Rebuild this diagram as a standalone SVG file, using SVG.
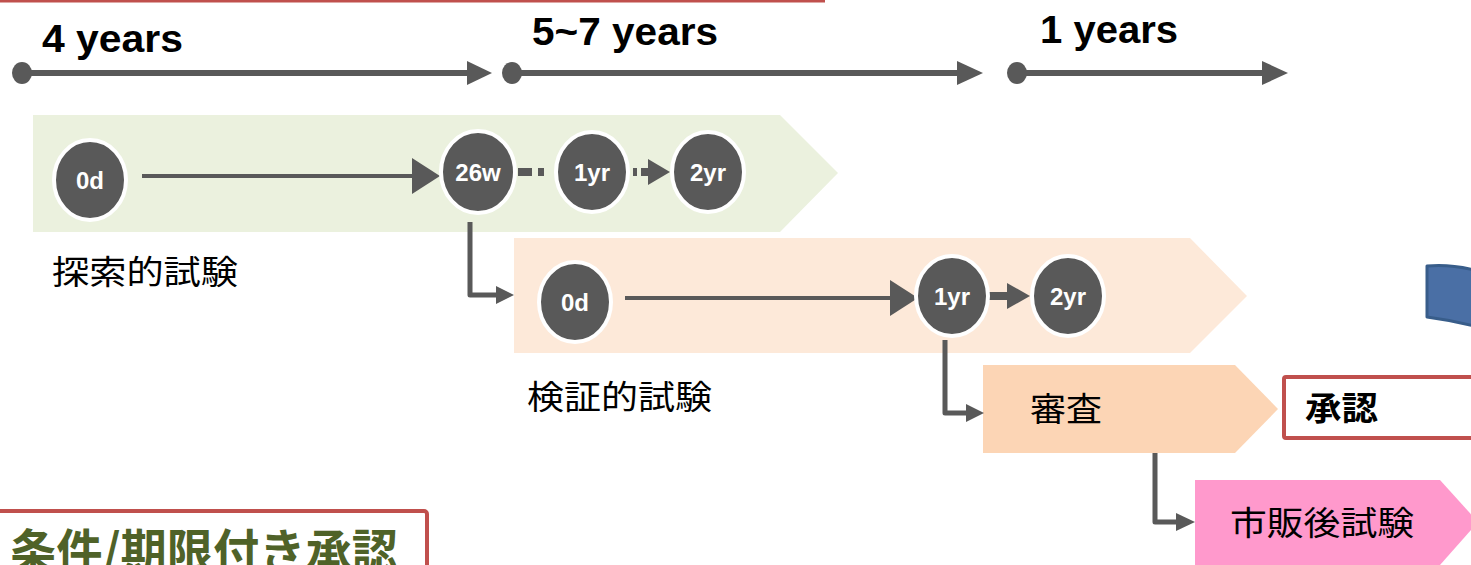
<svg xmlns="http://www.w3.org/2000/svg" width="1471" height="565" viewBox="0 0 1471 565">
<style>
.yr{font-family:"Liberation Sans",Arial,sans-serif;font-weight:bold;font-size:38px;fill:#000}
.nd ellipse{fill:#595959;stroke:#fff;stroke-width:4}
.nd text{font-family:"Liberation Sans",Arial,sans-serif;font-weight:bold;font-size:24px;fill:#fff;text-anchor:middle}
.jp{font-family:"Noto Sans CJK JP","Noto Sans",sans-serif;font-size:33px;fill:#000}
.ln{stroke:#595959;fill:none}
.ah{fill:#595959}
</style>
<rect x="0" y="0" width="1471" height="565" fill="#fff"/>
<line x1="0" y1="1" x2="825" y2="1" stroke="#C0504D" stroke-width="3"/>

<g id="band1"><polygon points="33,115 780,115 838,173 780,232 33,232" fill="#EBF1DE"/></g>
<g id="band2"><polygon points="514,238 1190,238 1247,296 1190,353 514,353" fill="#FDE9D9"/></g>
<g id="review"><polygon points="983,365 1235,365 1278,409 1235,453 983,453" fill="#FCD5B5"/><text class="jp" x="1030" y="421" font-size="35" textLength="72" lengthAdjust="spacingAndGlyphs">審査</text></g>
<g id="approval"><rect x="1284" y="377" width="200" height="61" rx="2" fill="#fff" stroke="#C0504D" stroke-width="4"/><text class="jp" x="1305" y="420" font-size="35" font-weight="bold" textLength="73" lengthAdjust="spacingAndGlyphs">承認</text></g>
<g id="postmarket"><polygon points="1195,480 1440,480 1478,522 1440,565 1195,565" fill="#FF99CC"/><text class="jp" x="1230" y="535" font-size="35" textLength="184" lengthAdjust="spacingAndGlyphs">市販後試験</text></g>
<g id="blueshape"><path d="M1427,266 Q1450,264 1474,270 L1474,326 Q1450,320 1427,317 Z" fill="#4A6FA5" stroke="#385D8A" stroke-width="3" stroke-linejoin="round"/></g>
<g id="conditional"><rect x="-6" y="511" width="433" height="70" rx="3" fill="#fff" stroke="#C0504D" stroke-width="4"/><text x="10" y="569" font-family="Noto Sans CJK JP,sans-serif" font-weight="bold" font-size="48" fill="#4F6228" textLength="388" lengthAdjust="spacingAndGlyphs">条件/期限付き承認</text></g>

<g id="labels">
<text class="yr" x="42" y="52" textLength="141" lengthAdjust="spacingAndGlyphs">4 years</text>
<text class="yr" x="532" y="45" textLength="186" lengthAdjust="spacingAndGlyphs">5~7 years</text>
<text class="yr" x="1040" y="43" textLength="138" lengthAdjust="spacingAndGlyphs">1 years</text>
<text class="jp" x="52" y="284" textLength="186" lengthAdjust="spacingAndGlyphs">探索的試験</text>
<text class="jp" x="527" y="409" textLength="185" lengthAdjust="spacingAndGlyphs">検証的試験</text>
</g>

<g id="connectors">
<ellipse cx="22" cy="73" rx="10" ry="11" class="ah"/>
<line x1="22" y1="73" x2="470" y2="73" class="ln" stroke-width="6"/>
<polygon points="467,61 492,73 467,85" class="ah"/>
<ellipse cx="512" cy="73" rx="10" ry="11" class="ah"/>
<line x1="512" y1="73" x2="960" y2="73" class="ln" stroke-width="6"/>
<polygon points="957,61 983,73 957,85" class="ah"/>
<ellipse cx="1017" cy="73" rx="10" ry="11" class="ah"/>
<line x1="1017" y1="73" x2="1265" y2="73" class="ln" stroke-width="6"/>
<polygon points="1262,61 1288,73 1262,85" class="ah"/>
<line x1="142" y1="176" x2="415" y2="176" class="ln" stroke-width="4"/>
<polygon points="412,158 440,176 412,194" class="ah"/>
<line x1="518" y1="172" x2="557" y2="172" class="ln" stroke-width="8" stroke-dasharray="14,6,6,20"/>
<line x1="633" y1="172" x2="652" y2="172" class="ln" stroke-width="8" stroke-dasharray="4,4,11"/>
<polygon points="648,159 670,172 648,185" class="ah"/>
<line x1="625" y1="298" x2="895" y2="298" class="ln" stroke-width="4"/>
<polygon points="890,280 918,298 890,316" class="ah"/>
<line x1="987" y1="296" x2="1010" y2="296" class="ln" stroke-width="8"/>
<polygon points="1007,283 1030,296 1007,309" class="ah"/>
<path d="M470,222 V295 H498" class="ln" stroke-width="5" stroke-linejoin="round"/>
<polygon points="496,286 514,295 496,304" class="ah"/>
<path d="M945,340 V413 H968" class="ln" stroke-width="5" stroke-linejoin="round"/>
<polygon points="966,404 984,413 966,422" class="ah"/>
<path d="M1155,453 V522 H1178" class="ln" stroke-width="5" stroke-linejoin="round"/>
<polygon points="1176,513 1195,522 1176,531" class="ah"/>
</g>

<g id="n0d_a" class="nd"><ellipse cx="90" cy="180" rx="36" ry="40"/><text x="90" y="189">0d</text></g>
<g id="n26w" class="nd"><ellipse cx="478" cy="172" rx="37" ry="41"/><text x="478" y="181">26w</text></g>
<g id="n1yr_a" class="nd"><ellipse cx="592" cy="172" rx="36" ry="40"/><text x="592" y="181">1yr</text></g>
<g id="n2yr_a" class="nd"><ellipse cx="708" cy="172" rx="36" ry="40"/><text x="708" y="181">2yr</text></g>
<g id="n0d_b" class="nd"><ellipse cx="575" cy="302" rx="36" ry="40"/><text x="575" y="311">0d</text></g>
<g id="n1yr_b" class="nd"><ellipse cx="952" cy="296" rx="36" ry="40"/><text x="952" y="305">1yr</text></g>
<g id="n2yr_b" class="nd"><ellipse cx="1068" cy="296" rx="36" ry="40"/><text x="1068" y="305">2yr</text></g>
</svg>
